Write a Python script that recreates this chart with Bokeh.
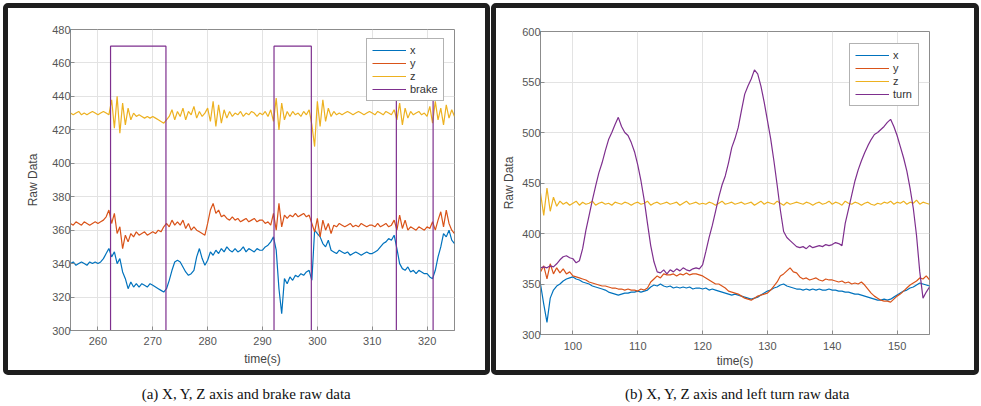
import numpy as np
from bokeh.plotting import figure
from bokeh.layouts import row, column
from bokeh.models import FixedTicker, Legend, LegendItem, Label, Range1d
from bokeh.embed import file_html
from bokeh.resources import INLINE

# ---------------- data: panel (a) brake ----------------
a_t_start, a_t_step = 255.0, 0.5
a_x = [340, 341, 339, 340, 341, 340, 339, 341, 340, 341,
       340, 341, 343, 346, 349, 344, 347, 340, 343, 335,
       331, 325, 329, 326, 328, 326, 328, 327, 326, 328,
       327, 326, 325, 324, 323, 325, 330, 336, 341, 342,
       341, 338, 335, 333, 334, 336, 344, 349, 343, 339,
       342, 347, 345, 348, 346, 349, 347, 350, 348, 347,
       349, 347, 348, 350, 347, 349, 348, 347, 349, 348,
       348, 350, 351, 353, 356, 348, 325, 310, 331, 328,
       332, 330, 333, 332, 334, 333, 335, 336, 330, 360,
       358, 356, 352, 350, 354, 348, 347, 346, 348, 347,
       346, 347, 345, 346, 347, 346, 345, 346, 347, 346,
       346, 347, 348, 350, 352, 353, 355, 354, 357, 349,
       340, 337, 336, 338, 335, 336, 334, 336, 335, 334,
       334, 332, 331, 336, 344, 350, 358, 356, 360, 354,
       352]
a_y = [364, 363, 365, 364, 363, 365, 364, 363, 364, 365,
       364, 365, 366, 368, 372, 364, 370, 358, 362, 349,
       357, 353, 358, 356, 359, 357, 358, 359, 357, 358,
       359, 358, 360, 359, 362, 364, 362, 366, 363, 365,
       363, 366, 361, 364, 360, 362, 360, 359, 358, 357,
       364, 372, 376, 370, 372, 368, 369, 367, 366, 368,
       366, 367, 365, 366, 367, 365, 366, 367, 365, 366,
       366, 364, 365, 363, 370, 360, 376, 362, 369, 367,
       369, 368, 370, 368, 369, 370, 368, 369, 364, 359,
       367, 356, 366, 360, 364, 358, 363, 362, 364, 363,
       362, 363, 364, 362, 363, 362, 364, 363, 362, 363,
       363, 362, 364, 362, 363, 364, 362, 363, 366, 360,
       369, 361, 366, 360, 362, 361, 360, 362, 361, 360,
       362, 361, 365, 360, 366, 371, 362, 372, 364, 360,
       358]
a_z = [430, 429, 430, 431, 429, 430, 429, 430, 431, 430,
       429, 430, 431, 430, 429, 438, 421, 440, 418, 436,
       423, 433, 426, 430, 428, 429, 428, 427, 428, 427,
       428, 427, 426, 425, 424, 426, 428, 432, 426, 431,
       428, 433, 426, 431, 429, 434, 427, 431, 428, 430,
       433, 425, 437, 422, 435, 424, 432, 427, 431, 428,
       430, 429, 431, 428, 430, 429, 431, 430, 428, 430,
       429, 431, 428, 432, 425, 439, 420, 436, 426, 431,
       428, 431, 429, 430, 428, 431, 429, 432, 423, 410,
       437, 422, 438, 425, 433, 428, 431, 429, 430, 429,
       430, 431, 430, 429, 430, 431, 430, 429, 430, 431,
       430, 429, 431, 430, 429, 431, 430, 429, 432, 426,
       436, 423, 433, 427, 431, 429, 430, 431, 429, 430,
       428, 434, 424, 437, 426, 433, 423, 435, 427, 432,
       428]
brake_on = [262.3, 292.1, 314.4]
brake_off = [272.4, 298.9, 321.1]
brake_low, brake_high = 300, 470

# ---------------- data: panel (b) left turn ----------------
b_t_start, b_t_step = 95.0, 0.5
b_x = [350, 330, 312, 336, 344, 348, 350, 353, 355, 356,
       357, 355, 354, 352, 351, 350, 348, 347, 346, 345,
       344, 342, 341, 340, 339, 340, 341, 341, 342, 342,
       343, 342, 343, 344, 347, 349, 348, 350, 348, 347,
       348, 346, 347, 346, 347, 346, 347, 345, 346, 346,
       345, 346, 344, 345, 344, 343, 342, 341, 340, 339,
       340, 339, 338, 337, 336, 335, 336, 337, 339, 341,
       343, 344, 346, 347, 349, 350, 348, 347, 346, 345,
       345, 344, 345, 344, 345, 344, 345, 344, 344, 345,
       344, 344, 343, 343, 342, 342, 341, 340, 340, 339,
       338, 337, 336, 335, 334, 334, 335, 334, 335, 337,
       339, 341, 343, 344, 346, 347, 349, 351, 350, 349,
       348]
b_y = [362, 368, 355, 370, 360, 366, 361, 365, 360, 362,
       358, 357, 356, 355, 354, 352, 351, 350, 349, 348,
       348, 347, 346, 346, 345, 345, 344, 345, 344, 344,
       343, 345, 344, 346, 352, 355, 358, 356, 360, 359,
       359, 360, 358, 360, 359, 361, 359, 360, 360, 359,
       358, 356, 354, 352, 350, 350, 348, 346, 343, 342,
       341, 340, 338, 336, 335, 334, 336, 338, 339, 340,
       341, 344, 348, 352, 358, 360, 363, 366, 362, 361,
       357, 355, 356, 354, 355, 356, 354, 353, 355, 354,
       354, 353, 352, 353, 351, 352, 350, 351, 350, 352,
       349, 345, 341, 338, 336, 334, 333, 333, 332, 335,
       338, 340, 343, 346, 349, 351, 353, 356, 355, 358,
       354]
b_z = [440, 418, 445, 422, 436, 427, 432, 429, 431, 428,
       430, 432, 428, 431, 429, 430, 432, 428, 430, 431,
       429, 430, 428, 431, 430, 429, 431, 430, 428, 430,
       431, 429, 430, 432, 428, 430, 431, 429, 430, 431,
       429, 430, 431, 428, 430, 432, 429, 430, 431, 429,
       430, 429, 431, 430, 428, 430, 432, 429, 430, 431,
       429, 430, 431, 429, 430, 431, 428, 430, 432, 429,
       431, 430, 429, 432, 430, 428, 431, 429, 430, 431,
       430, 429, 431, 430, 428, 430, 431, 429, 430, 432,
       429, 431, 430, 428, 432, 430, 429, 431, 430, 428,
       430, 431, 429, 428, 430, 429, 431, 430, 432, 429,
       431, 430, 432, 429, 431, 430, 433, 429, 431, 430,
       429]
b_turn = [366, 367, 366, 368, 367, 370, 374, 377, 378, 376,
          375, 371, 373, 385, 403, 418, 433, 447, 460, 470,
          482, 493, 500, 508, 515, 506, 500, 497, 490, 481,
          468, 452, 433, 410, 388, 372, 362, 361, 364, 360,
          364, 362, 365, 363, 366, 364, 363, 365, 366, 365,
          369, 382, 396, 408, 422, 436, 448, 457, 470, 485,
          494, 505, 522, 538, 546, 553, 562, 558, 546, 530,
          512, 494, 472, 448, 423, 402, 396, 393, 390, 387,
          386, 387, 385, 388, 386, 387, 388, 387, 389, 388,
          389, 391, 390, 388, 410, 424, 438, 452, 463, 472,
          480, 487, 493, 498, 500, 503, 506, 510, 513, 506,
          497, 486, 475, 462, 445, 425, 398, 362, 336, 342,
          347]

# tick labels
a_xticks = [260, 270, 280, 290, 300, 310, 320]
a_yticks = [300, 320, 340, 360, 380, 400, 420, 440, 460, 480]
b_xticks = [100, 110, 120, 130, 140, 150]
b_yticks = [300, 350, 400, 450, 500, 550, 600]

C_X, C_Y, C_Z, C_P = "#0072BD", "#D95319", "#EDB120", "#7E2F8E"
AX = "#8c8c8c"
FONT = "Liberation Sans"
BORDER = {"border": "5px solid #1e1e1e", "border-radius": "5px"}


def times(start, step, n):
    return [start + i * step for i in range(n)]


def step_series(on, off, lo, hi, t0, t1):
    ts, vs = [t0], [lo]
    for a, b in zip(on, off):
        ts += [a, a, b, b]
        vs += [lo, hi, hi, lo]
    ts.append(t1)
    vs.append(lo)
    return ts, vs


def panel(w, h, xr, yr, xt, yt, mb, series, leg_loc, ystand, xstand):
    p = figure(width=w, height=h, output_backend="svg", toolbar_location=None,
               x_range=Range1d(*xr), y_range=Range1d(*yr),
               min_border_left=mb[0], min_border_right=mb[1],
               min_border_top=mb[2], min_border_bottom=mb[3],
               background_fill_color="white", border_fill_color="white",
               outline_line_color=AX, outline_line_width=1)
    p.xaxis.ticker = FixedTicker(ticks=xt)
    p.yaxis.ticker = FixedTicker(ticks=yt)
    for ax in (p.xaxis[0], p.yaxis[0]):
        ax.axis_line_color = AX
        ax.major_tick_line_color = AX
        ax.major_tick_in = 4
        ax.major_tick_out = 0
        ax.minor_tick_line_color = None
        ax.major_label_text_font = FONT
        ax.major_label_text_font_size = "11px"
        ax.major_label_text_color = "#555555"
        ax.axis_label_text_font = FONT
        ax.axis_label_text_font_size = "12px"
        ax.axis_label_text_font_style = "normal"
        ax.axis_label_text_color = "#444444"
    p.xaxis.axis_label = "time(s)"
    p.yaxis.axis_label = "Raw Data"
    p.xaxis.major_label_standoff = xstand[0]
    p.xaxis.axis_label_standoff = xstand[1]
    p.yaxis.major_label_standoff = ystand[0]
    p.yaxis.axis_label_standoff = ystand[1]
    p.grid.grid_line_color = "#e3e3e3"
    p.grid.grid_line_width = 1
    items = []
    for (t, v, c, name) in series:
        r = p.line(t, v, line_color=c, line_width=1.2)
        items.append(LegendItem(label=name, renderers=[r]))
    leg = Legend(items=items, location=leg_loc)
    leg.border_line_color = "#666666"
    leg.border_line_width = 1
    leg.background_fill_color = "white"
    leg.background_fill_alpha = 1
    leg.label_text_font = FONT
    leg.label_text_font_size = "11px"
    leg.label_text_color = "#333333"
    leg.glyph_width = 34
    leg.glyph_height = 12
    leg.label_height = 12
    leg.label_standoff = 4
    leg.spacing = 1
    leg.padding = 5
    leg.margin = 0
    p.add_layout(leg, "center")
    return p


ta = times(a_t_start, a_t_step, len(a_x))
bt, bv = step_series(brake_on, brake_off, brake_low, brake_high, ta[0], ta[-1])
pa = panel(477, 362, (255, 325), (300, 480), a_xticks, a_yticks, (62, 31, 21, 40),
           [(ta, a_x, C_X, "x"), (ta, a_y, C_Y, "y"), (ta, a_z, C_Z, "z"), (bt, bv, C_P, "brake")],
           (296, 229), (0, 9), (6, 4))

tb = times(b_t_start, b_t_step, len(b_x))
pb = panel(478, 362, (95, 155), (300, 600), b_xticks, b_yticks, (44, 45, 23, 35),
           [(tb, b_x, C_X, "x"), (tb, b_y, C_Y, "y"), (tb, b_z, C_Z, "z"), (tb, b_turn, C_P, "turn")],
           (309, 228), (0, 3), (7, 1))

box_a = column(pa, styles=BORDER)
box_b = column(pb, styles=BORDER)

cap = figure(width=976, height=31, output_backend="svg", toolbar_location=None,
             x_range=Range1d(0, 976), y_range=Range1d(0, 31),
             min_border=0, outline_line_color=None)
cap.axis.visible = False
cap.grid.visible = False
for xc, txt in ((243, "(a) X, Y, Z axis and brake raw data"),
                (734, "(b) X, Y, Z axis and left turn raw data")):
    cap.add_layout(Label(x=xc, y=13, text=txt, text_align="center", text_baseline="middle",
                         text_font="Liberation Serif", text_font_size="15px", text_color="#111111"))

layout = column(row(box_a, box_b, spacing=1), cap, spacing=0,
                styles={"margin-left": "3px", "margin-top": "3px"})

open("out.html", "w").write(file_html(layout, INLINE))
